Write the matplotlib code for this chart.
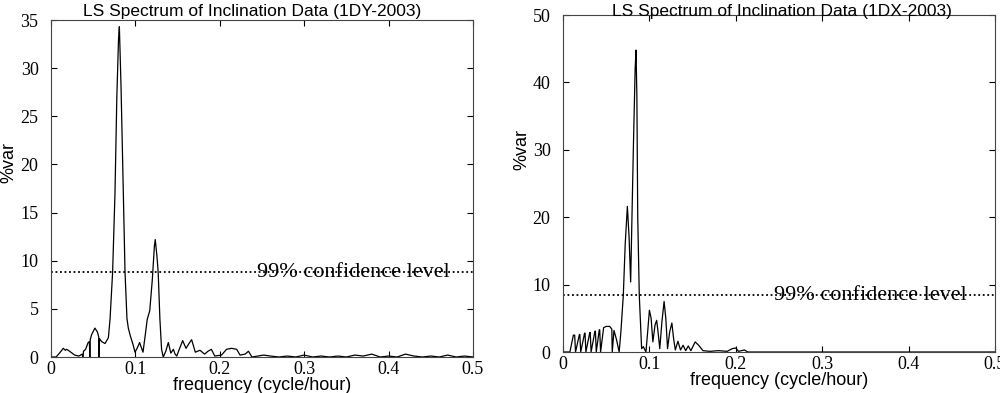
import numpy as np
import matplotlib
matplotlib.use("Agg")
import matplotlib.pyplot as plt

# LS spectrum, station 1DY (left panel)
freq_dy = [0.0, 0.006, 0.010, 0.0146, 0.017, 0.0186, 0.022, 0.028, 0.033, 0.037,
           0.0375, 0.038, 0.0385, 0.041, 0.044, 0.0455, 0.046, 0.0465, 0.048, 0.052,
           0.055, 0.0565, 0.057, 0.0575, 0.060, 0.064, 0.068, 0.070, 0.073, 0.0758,
           0.078, 0.080, 0.081, 0.083, 0.0857, 0.0877, 0.090, 0.0916, 0.094, 0.0975,
           0.0995, 0.102, 0.105, 0.109, 0.112, 0.114, 0.117, 0.120, 0.1225, 0.1235,
           0.1255, 0.127, 0.129, 0.131, 0.133, 0.136, 0.139, 0.142, 0.145, 0.147,
           0.149, 0.152, 0.156, 0.160, 0.1635, 0.1666, 0.171, 0.1765, 0.182, 0.186,
           0.190, 0.194, 0.202, 0.208, 0.214, 0.220, 0.224, 0.230, 0.234, 0.238,
           0.245, 0.252, 0.260, 0.270, 0.280, 0.290, 0.300, 0.310, 0.320, 0.330,
           0.340, 0.350, 0.360, 0.370, 0.380, 0.390, 0.400, 0.410, 0.420, 0.430,
           0.440, 0.450, 0.460, 0.470, 0.480, 0.490, 0.500]
var_dy = [0.0, 0.0, 0.4, 0.9, 0.7, 0.8, 0.6, 0.2, 0.1, 0.3,
          0.0, 0.0, 0.6, 0.8, 1.5, 1.6, 0.0, 1.8, 2.3, 3.0,
          2.6, 2.1, 0.0, 1.9, 1.6, 1.4, 2.0, 4.0, 8.8, 17.0,
          27.0, 33.0, 34.3, 28.0, 17.0, 8.8, 4.0, 3.0, 2.2, 1.2,
          0.5, 0.9, 1.5, 0.5, 2.5, 3.9, 4.8, 8.0, 11.5, 12.2,
          10.5, 8.8, 4.0, 0.8, 0.0, 0.6, 1.5, 0.4, 0.8, 0.3,
          0.1, 0.8, 1.7, 0.9, 1.4, 1.8, 0.5, 0.7, 0.3, 0.6,
          0.8, 0.1, 0.2, 0.8, 0.9, 0.8, 0.2, 0.3, 0.6, 0.0,
          0.1, 0.2, 0.1, 0.0, 0.1, 0.0, 0.2, 0.0, 0.1, 0.0,
          0.1, 0.0, 0.2, 0.1, 0.3, 0.0, 0.1, 0.0, 0.3, 0.1,
          0.0, 0.1, 0.0, 0.2, 0.0, 0.1, 0.0]

# LS spectrum, station 1DX (right panel)
freq_dx = [0.0, 0.008, 0.012, 0.0135, 0.0145, 0.019, 0.0195, 0.0205, 0.025, 0.0255,
           0.0265, 0.031, 0.0315, 0.0325, 0.037, 0.0375, 0.0385, 0.042, 0.0425, 0.0435,
           0.047, 0.050, 0.054, 0.0565, 0.057, 0.059, 0.062, 0.065, 0.067, 0.0698,
           0.072, 0.0745, 0.0765, 0.0783, 0.0795, 0.0814, 0.0835, 0.0845, 0.0855, 0.0865,
           0.0883, 0.091, 0.093, 0.096, 0.098, 0.100, 0.102, 0.104, 0.1065, 0.1084,
           0.110, 0.112, 0.1145, 0.117, 0.119, 0.121, 0.1235, 0.126, 0.128, 0.130,
           0.133, 0.136, 0.139, 0.142, 0.145, 0.148, 0.153, 0.157, 0.162, 0.170,
           0.180, 0.190, 0.196, 0.200, 0.203, 0.210, 0.214, 0.220, 0.300, 0.400,
           0.500]
var_dx = [0.0, 0.0, 2.5, 2.5, 0.0, 2.6, 2.6, 0.0, 2.8, 2.8,
          0.0, 2.9, 2.9, 0.0, 3.1, 3.1, 0.0, 3.3, 3.3, 0.0,
          3.6, 3.8, 3.8, 3.4, 0.0, 3.2, 1.8, 0.0, 3.0, 8.4,
          16.0, 21.6, 17.0, 10.4, 18.0, 30.0, 42.0, 44.8, 38.0, 20.0,
          8.4, 0.5, 0.8, 0.0, 3.0, 6.2, 5.0, 1.5, 4.0, 4.7,
          3.0, 0.5, 4.5, 7.5, 5.0, 0.5, 3.0, 4.3, 2.0, 0.3,
          1.6, 0.3, 1.0, 0.2, 0.9, 0.2, 1.5, 1.0, 0.2, 0.1,
          0.2, 0.1, 0.5, 0.6, 0.1, 0.3, 0.0, 0.0, 0.0, 0.0,
          0.0]

conf_dy = 8.8
conf_dx = 8.4
xticks = [0, 0.1, 0.2, 0.3, 0.4, 0.5]
xtick_labels = ["0", "0.1", "0.2", "0.3", "0.4", "0.5"]

sans = "Liberation Sans"
serif = "Liberation Serif"

fig = plt.figure(figsize=(10, 3.93), dpi=100)

panels = [
    ([0.051, 0.0916, 0.422, 0.8575], freq_dy, var_dy, conf_dy, 35, 5,
     "LS Spectrum of Inclination Data (1DY-2003)", 0.252, (-0.080, 0.576)),
    ([0.563, 0.1043, 0.432, 0.8575], freq_dx, var_dx, conf_dx, 50, 10,
     "LS Spectrum of Inclination Data (1DX-2003)", 0.782, (-0.076, 0.60)),
]

for rect, f, v, conf, ymax, ystep, title, tx, ylab_pos in panels:
    ax = fig.add_axes(rect)
    ax.plot(f, v, color="black", lw=0.9)
    ax.axhline(conf, color="black", lw=1.3, linestyle=(0, (1, 1.5)))
    ax.set_xlim(0, 0.5)
    ax.set_ylim(0, ymax)
    ax.set_xticks(xticks)
    ax.set_xticklabels(xtick_labels, fontfamily=serif, fontsize=13)
    yt = list(range(0, ymax + 1, ystep))
    ax.set_yticks(yt)
    ax.set_yticklabels([str(t) for t in yt], fontfamily=serif, fontsize=13)
    ax.tick_params(direction="in", top=True, right=True, length=4, width=0.8)
    ax.tick_params(axis="x", pad=3)
    ax.tick_params(axis="y", pad=9)
    for s in ax.spines.values():
        s.set_linewidth(0.8)
        s.set_color("#444444")
    ax.set_xlabel("frequency (cycle/hour)", fontfamily=sans, fontsize=13, labelpad=-1)
    ax.set_ylabel("%var", fontfamily=sans, fontsize=13)
    ax.yaxis.set_label_coords(*ylab_pos)
    ax.text(0.244, conf, "99% confidence level", fontfamily=serif, fontsize=16,
            va="center", ha="left")
    fig.text(tx, 0.97, title, fontfamily=sans, fontsize=12.5, ha="center", va="center")

fig.savefig("out.png", dpi=100)
